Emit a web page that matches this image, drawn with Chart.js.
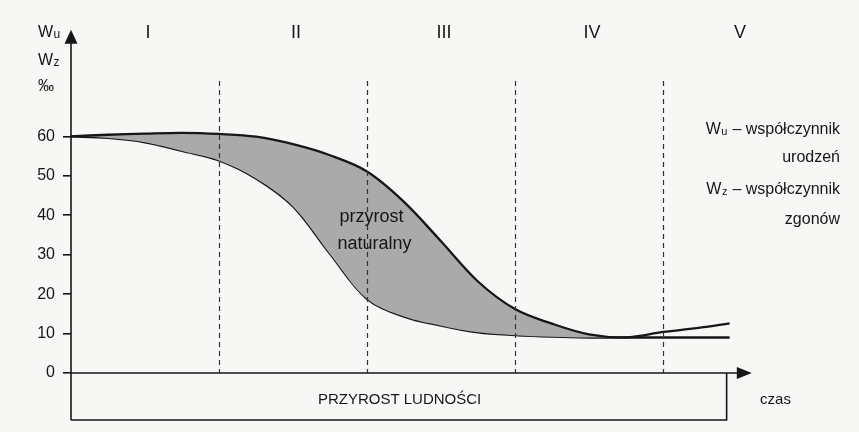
<!DOCTYPE html>
<html><head><meta charset="utf-8">
<script src="https://cdn.jsdelivr.net/npm/chart.js@4.4.1/dist/chart.umd.min.js"></script>
<style>html,body{margin:0;padding:0;background:#f7f7f5;} canvas{display:block}</style>
</head><body>
<canvas id="c" width="859" height="432"></canvas>
<script>
// ---- data (stage units on x: 0..5, ‰ on y) ----
const stageX     = [0, 0.25, 0.5, 0.75, 1, 1.25, 1.5, 1.75, 2, 2.25, 2.5, 2.75, 3, 3.25, 3.5, 3.75, 4, 4.25, 4.45];
const birthRate  = [60, 60.4, 60.7, 60.9, 60.6, 59.9, 58.0, 55.2, 51.1, 43.4, 33.4, 23.2, 16.2, 12.5, 9.8, 9.05, 10.4, 11.5, 12.6];
const deathRate  = [60, 59.6, 58.5, 56.3, 53.9, 49.3, 42.2, 30.2, 18.8, 14.3, 12.0, 10.3, 9.6, 9.2, 9.0, 9.0, 9.0, 9.0, 9.0];
const yTicks     = [0, 10, 20, 30, 40, 50, 60];
const stageLabels = ['I', 'II', 'III', 'IV', 'V'];
const stageBoundaries = [1, 2, 3, 4];
const legendLines = [
  ['W', 'u', ' – współczynnik'],
  ['', '', 'urodzeń'],
  ['W', 'z', ' – współczynnik'],
  ['', '', 'zgonów']
];
const axisLabels = [['W', 'u'], ['W', 'z'], ['‰', '']];
const bottomLabel = 'PRZYROST LUDNOŚCI';
const timeLabel = 'czas';
const fillLabel = ['przyrost', 'naturalny'];

const FONT = '"Liberation Sans", Arial, sans-serif';
const INK = '#161616';
const GRAY = '#aaaaaa';

const crossIdx = birthRate.findIndex((v, i) => i > 0 && v - deathRate[i] <= 0.1);
const crossX = stageX[crossIdx];

function pts(arr) { return stageX.map((x, i) => ({ x: x, y: arr[i] })); }

const deco = {
  id: 'deco',
  afterDatasetsDraw(chart) {
    const { ctx, scales: { x: xs, y: ys } } = chart;
    ctx.save();
    ctx.strokeStyle = '#333';
    ctx.lineWidth = 1.2;
    ctx.setLineDash([5, 4]);
    stageBoundaries.forEach(b => {
      const px = Math.round(xs.getPixelForValue(b)) + 0.5;
      ctx.beginPath();
      ctx.moveTo(px, ys.getPixelForValue(74));
      ctx.lineTo(px, ys.getPixelForValue(0));
      ctx.stroke();
    });
    ctx.restore();
  },
  afterDraw(chart) {
    const { ctx, scales: { x: xs, y: ys } } = chart;
    const x0 = xs.getPixelForValue(0), y0 = ys.getPixelForValue(0);
    ctx.save();
    ctx.strokeStyle = INK; ctx.fillStyle = INK; ctx.lineWidth = 1.6;
    // y axis with arrow
    const yTop = ys.getPixelForValue(87), yBot = ys.getPixelForValue(-11.9);
    ctx.beginPath(); ctx.moveTo(x0, yBot); ctx.lineTo(x0, yTop + 10); ctx.stroke();
    ctx.beginPath(); ctx.moveTo(x0, yTop); ctx.lineTo(x0 - 6.5, yTop + 14); ctx.lineTo(x0 + 6.5, yTop + 14); ctx.closePath(); ctx.fill();
    // x axis with arrow
    const xTip = xs.getPixelForValue(4.6);
    ctx.beginPath(); ctx.moveTo(x0, y0); ctx.lineTo(xTip - 10, y0); ctx.stroke();
    ctx.beginPath(); ctx.moveTo(xTip, y0); ctx.lineTo(xTip - 15, y0 - 6); ctx.lineTo(xTip - 15, y0 + 6); ctx.closePath(); ctx.fill();
    // bottom box
    const bxR = xs.getPixelForValue(4.43);
    ctx.beginPath(); ctx.moveTo(x0, yBot); ctx.lineTo(bxR, yBot); ctx.lineTo(bxR, y0); ctx.stroke();
    // texts
    ctx.textBaseline = 'alphabetic';
    ctx.font = '15px ' + FONT; ctx.textAlign = 'center';
    ctx.fillText(bottomLabel, xs.getPixelForValue(2.22), ys.getPixelForValue(-7.9));
    ctx.fillText(timeLabel, xs.getPixelForValue(4.76), ys.getPixelForValue(-7.9));
    // roman numerals
    ctx.font = '18px ' + FONT;
    stageLabels.forEach((s, i) => ctx.fillText(s, xs.getPixelForValue(i + 0.52), ys.getPixelForValue(85)));
    // fill label
    ctx.font = '18px ' + FONT;
    ctx.fillText(fillLabel[0], xs.getPixelForValue(2.03), ys.getPixelForValue(38.2));
    ctx.fillText(fillLabel[1], xs.getPixelForValue(2.05), ys.getPixelForValue(31.4));
    // axis labels (top-left)
    const axVals = [85.2, 78, 71.5];
    axisLabels.forEach((a, i) => {
      const by = ys.getPixelForValue(axVals[i]);
      ctx.textAlign = 'left';
      ctx.font = '16px ' + FONT;
      ctx.fillText(a[0], 38, by);
      const w = ctx.measureText(a[0]).width;
      if (a[1]) { ctx.font = '12px ' + FONT; ctx.fillText(a[1], 38 + w + 0.5, by + 1); }
    });
    // legend lines, right aligned
    const legVals = [60.6, 53.5, 45.3, 37.9];
    const right = 840;
    legendLines.forEach((l, i) => {
      const by = ys.getPixelForValue(legVals[i]);
      ctx.font = '16px ' + FONT; const w0 = ctx.measureText(l[0]).width; const w2 = ctx.measureText(l[2]).width;
      ctx.font = '11px ' + FONT; const w1 = l[1] ? ctx.measureText(l[1]).width + 1 : 0;
      let x = right - w0 - w1 - w2;
      ctx.textAlign = 'left';
      ctx.font = '16px ' + FONT; ctx.fillText(l[0], x, by); x += w0;
      if (l[1]) { ctx.font = '11px ' + FONT; ctx.fillText(l[1], x + 0.5, by + 1); x += w1; }
      ctx.font = '16px ' + FONT; ctx.fillText(l[2], x, by);
    });
    ctx.restore();
  }
};

new Chart(document.getElementById('c'), {
  type: 'line',
  data: {
    datasets: [
      {
        label: 'Wu – współczynnik urodzeń',
        data: pts(birthRate),
        borderColor: INK, borderWidth: 2.3, pointRadius: 0,
        tension: 0.35,
        fill: { target: 1 },
        backgroundColor: (c) => {
          const chart = c.chart; const area = chart.chartArea;
          if (!area || !chart.scales.x) return GRAY;
          const px = chart.scales.x.getPixelForValue(crossX);
          const f = Math.max(0, Math.min(1, (px - area.left) / (area.right - area.left)));
          const g = chart.ctx.createLinearGradient(area.left, 0, area.right, 0);
          g.addColorStop(0, GRAY); g.addColorStop(f, GRAY);
          g.addColorStop(Math.min(1, f + 0.001), 'rgba(0,0,0,0)'); g.addColorStop(1, 'rgba(0,0,0,0)');
          return g;
        }
      },
      {
        label: 'Wz – współczynnik zgonów',
        data: pts(deathRate),
        borderColor: INK, borderWidth: 2.3, pointRadius: 0,
        tension: 0.35,
        fill: false
      }
    ]
  },
  options: {
    responsive: false, animation: false, devicePixelRatio: 1,
    layout: { padding: { left: 0, right: 48, top: 18, bottom: 59 } },
    plugins: { legend: { display: false }, tooltip: { enabled: false } },
    scales: {
      x: { type: 'linear', min: 0, max: 5, display: false },
      y: {
        type: 'linear', min: 0, max: 90,
        afterBuildTicks: (s) => { s.ticks = yTicks.map(v => ({ value: v })); },
        afterFit: (s) => { s.width = 71; },
        border: { display: false },
        grid: { drawOnChartArea: false, drawTicks: true, tickLength: 8, color: INK, lineWidth: 1.6 },
        ticks: { color: INK, padding: 8, font: { family: FONT, size: 16 } }
      }
    }
  },
  plugins: [deco]
});
</script>
</body></html>
